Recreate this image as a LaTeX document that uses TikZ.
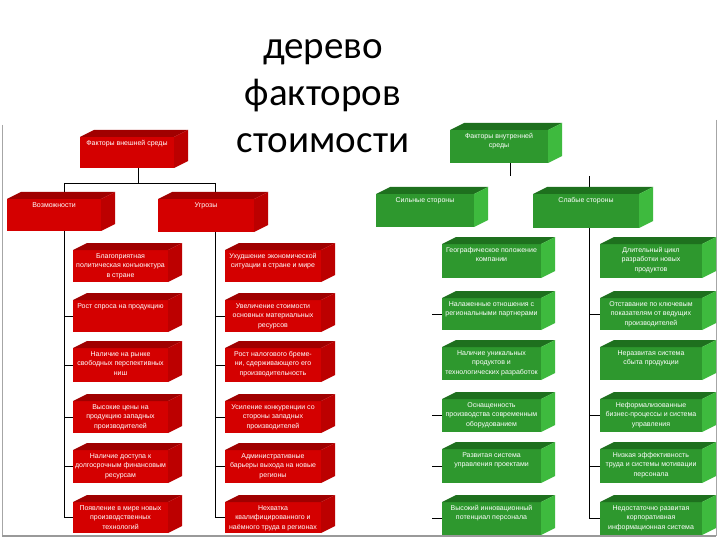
\documentclass[tikz,border=0pt]{standalone}
\usepackage{fontspec}
\usetikzlibrary{backgrounds}
\newfontfamily\titlefont{Carlito}
\newfontfamily\boxfont{Liberation Sans}
\definecolor{redfront}{RGB}{212,0,0}
\definecolor{redtop}{RGB}{160,0,0}
\definecolor{redside}{RGB}{188,0,0}
\definecolor{greenfront}{RGB}{46,152,46}
\definecolor{greentop}{RGB}{30,112,30}
\definecolor{greenside}{RGB}{62,186,62}
\tikzset{
  cubefront/.style={inner sep=0pt, outer sep=0pt, fill=#1front},
  boxtxt/.style={text=white, font=\boxfont\fontsize{7}{9.6}\selectfont, align=center, inner sep=0pt},
  conn/.style={draw=black, line width=0.8pt},
  frameline/.style={draw=gray!70, line width=1pt},
  titletxt/.style={font=\titlefont\fontsize{39}{47}\selectfont, align=center, text=black}
}
% #1 name, #2 x-left, #3 y-top, #4 x-right, #5 y-bottom (overall), #6 colour prefix, #7 text
\newcommand\fcube[7]{%
  \node[cubefront=#6, anchor=north west, minimum width={(#4-#2-14)*1pt}, minimum height={(#5-#3-7)*1pt}] (#1) at (#2,#3+7) {};
  \fill[#6top] (#1.north west) -- ++(14,-7) -- ([shift={(14,-7)}]#1.north east) -- (#1.north east) -- cycle;
  \fill[#6side] (#1.north east) -- ++(14,-7) -- ([shift={(14,-7)}]#1.south east) -- (#1.south east) -- cycle;
  \node[boxtxt, anchor=north] (#1t) at ([yshift=-3pt]#1.north) {#7};
}
\begin{document}
\begin{tikzpicture}[x=1pt,y=-1pt]
\useasboundingbox (0,0) rectangle (720,540);

\node[titletxt] (title) at (323,96) {дерево\\факторов\\стоимости};

% red: external factors
\fcube{T1}{80}{130}{188}{168}{red}{Факторы внешней среды}
\fcube{V}{7}{192}{115}{231}{red}{Возможности}
\fcube{U}{158}{192}{268}{232}{red}{Угрозы}

\fcube{L1}{73}{243}{182}{282}{red}{Благоприятная\\политическая конъюнктура\\в стране}
\fcube{L2}{73}{293}{182}{332}{red}{Рост спроса на продукцию}
\fcube{L3}{73}{341}{182}{382}{red}{Наличие на рынке\\свободных перспективных\\ниш}
\fcube{L4}{73}{394}{182}{433}{red}{Высокие цены на\\продукцию западных\\производителей}
\fcube{L5}{73}{443}{182}{483}{red}{Наличие доступа к\\долгосрочным финансовым\\ресурсам}
\fcube{L6}{73}{495}{182}{533}{red}{Появление в мире новых\\производственных\\технологий}

\fcube{R1}{225}{243}{335}{282}{red}{Ухудшение экономической\\ситуации в стране и мире}
\fcube{R2}{225}{293}{335}{332}{red}{Увеличение стоимости\\основных материальных\\ресурсов}
\fcube{R3}{225}{341}{335}{382}{red}{Рост налогового бреме-\\ни, сдерживающего его\\производительность}
\fcube{R4}{225}{394}{335}{433}{red}{Усиление конкуренции со\\стороны западных\\производителей}
\fcube{R5}{225}{443}{335}{483}{red}{Административные\\барьеры выхода на новые\\регионы}
\fcube{R6}{225}{495}{335}{533}{red}{Нехватка\\квалифицированного и\\наёмного труда в регионах}

% green: internal factors
\fcube{T2}{450}{123}{562}{163}{green}{Факторы внутренней\\среды}
\fcube{S}{376}{187}{488}{227}{green}{Сильные стороны}
\fcube{W}{533}{187}{653}{228}{green}{Слабые стороны}

\fcube{GL1}{442}{237}{555}{278}{green}{Географическое положение\\компании}
\fcube{GL2}{442}{291}{555}{330}{green}{Налаженные отношения с\\региональными партнерами}
\fcube{GL3}{442}{340}{555}{380}{green}{Наличие уникальных\\продуктов и\\технологических разработок}
\fcube{GL4}{442}{392}{555}{432}{green}{Оснащенность\\производства современным\\оборудованием}
\fcube{GL5}{442}{442}{555}{483}{green}{Развитая система\\управления проектами}
\fcube{GL6}{442}{495}{555}{535}{green}{Высокий инновационный\\потенциал персонала}

\fcube{GR1}{600}{237}{716}{278}{green}{Длительный цикл\\разработки новых\\продуктов}
\fcube{GR2}{600}{291}{716}{330}{green}{Отставание по ключевым\\показателям от ведущих\\производителей}
\fcube{GR3}{600}{340}{716}{380}{green}{Неразвитая система\\сбыта продукции}
\fcube{GR4}{600}{392}{716}{432}{green}{Неформализованные\\бизнес-процессы и система\\управления}
\fcube{GR5}{600}{442}{716}{483}{green}{Низкая эффективность\\труда и системы мотивации\\персонала}
\fcube{GR6}{600}{495}{716}{535}{green}{Недостаточно развитая\\корпоративная\\информационная система}

\begin{pgfonlayer}{background}
  \fill[white] (0,0) rectangle (720,540);
  % red tree
  \coordinate (rj) at (138,183);
  \coordinate (rl) at (64,183);
  \coordinate (rr) at (215,183);
  \draw[conn] (rj |- T1.south) -- (rj);
  \draw[conn] (rl) -- (rr);
  \draw[conn] (rl) -- (rl |- L6.west) -- (L6.west);
  \draw[conn] (rr) -- (rr |- R6.west) -- (R6.west);
  \foreach \b in {L2,L3,L4,L5} {\draw[conn] (rl |- \b.west) -- (\b.west);}
  \foreach \b in {R2,R3,R4,R5} {\draw[conn] (rr |- \b.west) -- (\b.west);}
  % green tree
  \coordinate (gj) at (510,176);
  \coordinate (gr) at (589,176);
  \coordinate (gl) at (432,300);
  \draw[conn] (gj |- T2.south) -- (gj);
  \draw[conn] (gr) -- (gr |- GR6.west) -- (GR6.west);
  \foreach \b in {GR2,GR4,GR5} {\draw[conn] (gr |- \b.west) -- (\b.west);}
  \foreach \b in {GL2,GL4,GL5,GL6} {\draw[conn] (gl |- \b.west) -- (\b.west);}
  % slide frame
  \draw[frameline] (2,125) -- (2,536);
  \draw[frameline] (716,120) -- (716,536);
  \draw[draw=gray!80, line width=1.8pt] (2,536) -- (716,536);
\end{pgfonlayer}
\end{tikzpicture}
\end{document}
